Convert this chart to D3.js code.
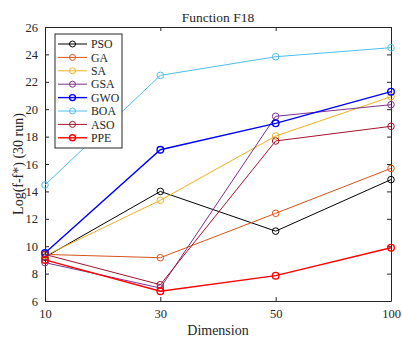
<!DOCTYPE html>
<html>
<head>
<meta charset="utf-8">
<script src="https://cdn.jsdelivr.net/npm/d3@7"></script>
<style>
	body { margin: 0; background: #fff; }
</style>
</head>
<body>
<div id="chart"></div>
<script>
// our data
const dimensions = ['10', '30', '50', '100']
const algorithms = ['PSO', 'GA', 'SA', 'GSA', 'GWO', 'BOA', 'ASO', 'PPE']
const colors = ['#000000', '#D95319', '#EDB120', '#7E2F8E', '#0000FF', '#4DBEEE', '#A2142F', '#FF0000']
const widths = [1, 1, 1, 1, 1.4, 1, 1, 1.4]

const psoValues = [9.2, 14.0, 11.1, 14.86]
const gaValues = [9.4, 9.16, 12.4, 15.68]
const saValues = [9.3, 13.35, 18.04, 20.91]
const gsaValues = [8.8, 6.95, 19.48, 20.33]
const gwoValues = [9.5, 17.04, 18.97, 21.28]
const boaValues = [14.47, 22.47, 23.83, 24.49]
const asoValues = [9.4, 7.19, 17.68, 18.75]
const ppeValues = [9.0, 6.71, 7.85, 9.89]
const yTicks = [6, 8, 10, 12, 14, 16, 18, 20, 22, 24, 26]

const series = [psoValues, gaValues, saValues, gsaValues, gwoValues, boaValues, asoValues, ppeValues]
	.map((values, i) => ({name: algorithms[i], color: colors[i], width: widths[i], values}))

const width = 402
const height = 341
const margin = {top: 27, right: 11, bottom: 40, left: 45}
const serif = 'Liberation Serif'
const ink = '#262626'

const $svg = d3.select('#chart')
	.append('svg')
	.attr('width', width)
	.attr('height', height)

const x = d3.scalePoint()
	.domain(dimensions)
	.range([margin.left, width - margin.right])

const y = d3.scaleLinear()
	.domain([6, 26])
	.range([height - margin.bottom, margin.top])

// axes, ticks pointing inwards, matlab style box
const tickLen = 4
const $xAxis = $svg.append('g')
	.attr('transform', `translate(0, ${height - margin.bottom})`)
	.call(d3.axisBottom(x).tickSizeInner(-tickLen).tickSizeOuter(0).tickPadding(8))
$svg.append('g')
	.attr('transform', `translate(0, ${margin.top})`)
	.call(d3.axisTop(x).tickSizeInner(-tickLen).tickSizeOuter(0).tickFormat(''))
const $yAxis = $svg.append('g')
	.attr('transform', `translate(${margin.left}, 0)`)
	.call(d3.axisLeft(y).tickValues(yTicks).tickSizeInner(-tickLen).tickSizeOuter(0).tickPadding(7))
$svg.append('g')
	.attr('transform', `translate(${width - margin.right}, 0)`)
	.call(d3.axisRight(y).tickValues(yTicks).tickSizeInner(-tickLen).tickSizeOuter(0).tickFormat(''))

$svg.selectAll('.domain, .tick line').attr('stroke', ink)
$svg.selectAll('.tick text')
	.attr('font-family', serif)
	.attr('font-size', 12.5)
	.attr('fill', ink)

// lines and markers
const line = d3.line()
	.x((d, i) => x(dimensions[i]))
	.y(d => y(d))

const $series = $svg.selectAll('.series')
	.data(series)
	.join('g')
		.attr('class', 'series')

$series.append('path')
	.attr('d', d => line(d.values))
	.attr('fill', 'none')
	.attr('stroke', d => d.color)
	.attr('stroke-width', d => d.width)

$series.selectAll('circle')
	.data(d => d.values.map((v, i) => ({v, i, s: d})))
	.join('circle')
		.attr('cx', d => x(dimensions[d.i]))
		.attr('cy', d => y(d.v))
		.attr('r', 3.3)
		.attr('fill', 'none')
		.attr('stroke', d => d.s.color)
		.attr('stroke-width', d => d.s.width)

// titles
$svg.append('text')
	.attr('x', (margin.left + width - margin.right) / 2)
	.attr('y', 21.5)
	.attr('text-anchor', 'middle')
	.attr('font-family', serif)
	.attr('font-size', 13.5)
	.attr('fill', ink)
	.text('Function F18')

$svg.append('text')
	.attr('x', (margin.left + width - margin.right) / 2)
	.attr('y', 335)
	.attr('text-anchor', 'middle')
	.attr('font-family', serif)
	.attr('font-size', 14)
	.attr('fill', ink)
	.text('Dimension')

$svg.append('text')
	.attr('transform', `translate(23, ${(margin.top + height - margin.bottom) / 2}) rotate(-90)`)
	.attr('text-anchor', 'middle')
	.attr('font-family', serif)
	.attr('font-size', 14)
	.attr('fill', ink)
	.text('Log(f-f*) (30 run)')

// legend
const $legend = $svg.append('g')
	.attr('transform', 'translate(55, 34)')

$legend.append('rect')
	.attr('width', 67)
	.attr('height', 114)
	.attr('fill', '#fff')
	.attr('stroke', ink)
	.attr('stroke-width', 1)

const $items = $legend.selectAll('.item')
	.data(series)
	.join('g')
		.attr('class', 'item')
		.attr('transform', (d, i) => `translate(0, ${10 + i * 13.4})`)

$items.append('line')
	.attr('x1', 3).attr('x2', 32)
	.attr('stroke', d => d.color)
	.attr('stroke-width', d => d.width)
$items.append('circle')
	.attr('cx', 17.5)
	.attr('r', 3)
	.attr('fill', 'none')
	.attr('stroke', d => d.color)
	.attr('stroke-width', d => d.width)
$items.append('text')
	.attr('x', 36)
	.attr('dy', '0.35em')
	.attr('font-family', serif)
	.attr('font-size', 11.8)
	.attr('fill', ink)
	.text(d => d.name)
</script>
</body>
</html>
